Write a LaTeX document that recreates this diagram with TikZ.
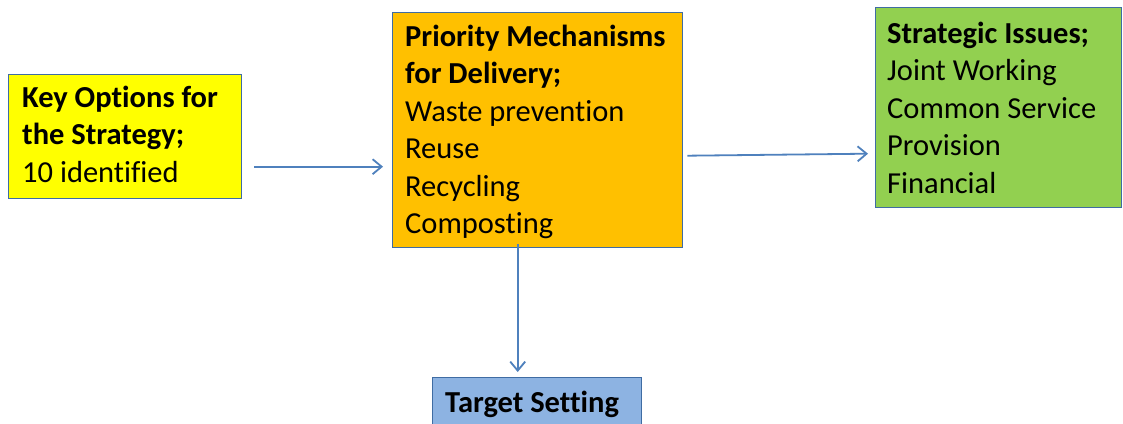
\documentclass[tikz,border=0pt]{standalone}
\usepackage{fontspec}
\setmainfont[RawFeature={-liga;-clig;-dlig}]{Carlito}
\usetikzlibrary{arrows.meta}
\definecolor{boxline}{HTML}{3F6CA3}
\definecolor{arrowblue}{HTML}{4F81BD}
\definecolor{cyellow}{HTML}{FFFF00}
\definecolor{corange}{HTML}{FFC000}
\definecolor{cgreen}{HTML}{92D050}
\definecolor{cblue}{HTML}{8DB3E2}
\tikzset{
  box/.style={draw=boxline, line width=1.4pt, inner sep=0pt, anchor=north west},
  txt/.style={anchor=north west, inner sep=0pt, align=left, font=\fontsize{30.5}{37.5}\selectfont},
  arr/.style={draw=arrowblue, line width=1.8pt, -{Straight Barb[length=9pt,width=15pt,line width=1.8pt]}}
}
\begin{document}
\begin{tikzpicture}[x=1pt,y=-1pt]
\clip (0,0) rectangle (1123,423);
\fill[white] (0,0) rectangle (1123,423);
% boxes
\node[box, fill=cyellow, minimum width=233pt, minimum height=124pt] (yellow) at (8,74) {};
\node[box, fill=corange, minimum width=290pt, minimum height=235pt] (orange) at (392,12) {};
\node[box, fill=cgreen, minimum width=246pt, minimum height=200pt] (green) at (875,7) {};
\node[box, fill=cblue, minimum width=209pt, minimum height=70pt] (target) at (432,377) {};
% texts
\node[txt] (ytext) at (22,107-26.25) {\strut\textbf{Key Options for}\\\textbf{the Strategy;}\\10 identified};
\node[txt] (otext) at (405,46-26.25) {\strut\textbf{Priority Mechanisms}\\\textbf{for Delivery;}\\Waste prevention\\Reuse\\Recycling\\Composting};
\node[txt] (gtext) at (887,43-26.25) {\strut\textbf{Strategic Issues;}\\Joint Working\\Common Service\\Provision\\Financial};
\node[txt] (ttext) at (445,412-26.25) {\strut\textbf{Target Setting}};
% connectors
\draw[arr] ([shift={(12,30)}]yellow.east) -- ([shift={(-9,36.5)}]orange.west);
\draw[arr] ([shift={(4,25.5)}]orange.east) -- ([shift={(-7,46)}]green.west);
\draw[arr] ([shift={(-20,-4)}]orange.south) -- ([shift={(-19.5,-5)}]target.north);
\end{tikzpicture}
\end{document}
